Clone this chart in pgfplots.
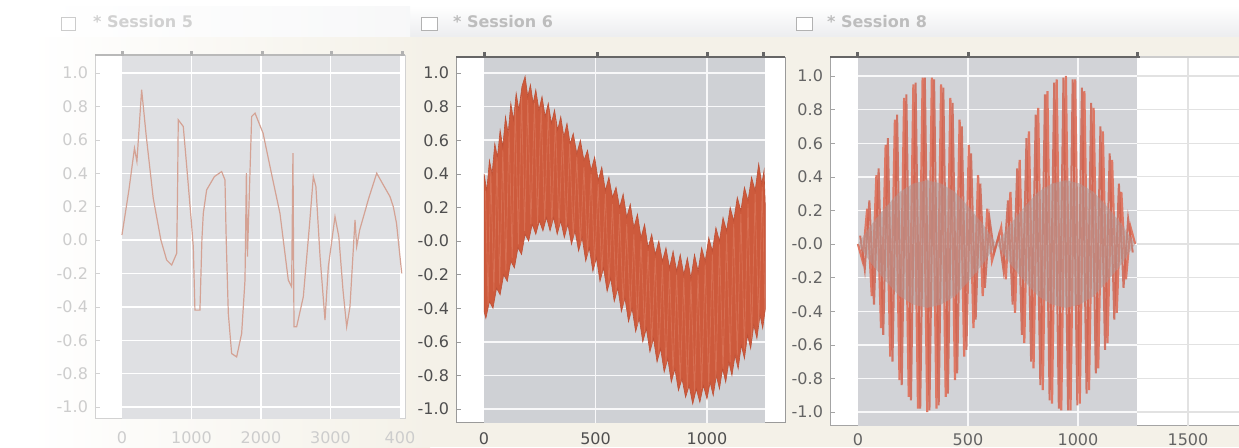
\documentclass[border=0pt]{standalone}
\usepackage{pgfplots}
\pgfplotsset{compat=1.18}
\usepackage{fontspec}
\setmainfont{DejaVu Sans}

\definecolor{cream}{HTML}{F4F1E8}
\definecolor{barbot}{HTML}{ECEDEF}
\definecolor{titlec}{HTML}{BDBDBD}
\definecolor{frameA}{HTML}{D2D2D2}
\definecolor{frameB}{HTML}{9A9A9A}
\definecolor{frameC}{HTML}{A4A4A4}
\definecolor{plotA}{HTML}{DFE0E3}
\definecolor{plotB}{HTML}{CFD1D5}
\definecolor{plotC}{HTML}{D2D3D7}
\definecolor{labA}{HTML}{CDCDCD}
\definecolor{labB}{HTML}{4F4F4F}
\definecolor{labC}{HTML}{646464}
\definecolor{lineA}{HTML}{D4A294}
\definecolor{bandB}{HTML}{CD5A3C}
\definecolor{bandBd}{HTML}{BE5036}
\definecolor{bandBl}{HTML}{E08468}
\definecolor{stripeC}{HTML}{DE7864}
\definecolor{stripeD}{HTML}{D0634F}
\definecolor{mauve}{HTML}{B39490}
\definecolor{gridC}{HTML}{E2E2E2}

\pgfplotsset{
  panel/.style={
    scale only axis, clip=true,
    ytick={-1,-0.8,-0.6,-0.4,-0.2,0,0.2,0.4,0.6,0.8,1},
    ytick pos=left, xtick pos=bottom, tick align=inside,
    major tick length=2.5pt,
    xtick style={draw=none},
    tick label style={font=\fontsize{8}{9}\selectfont},
    xticklabel style={yshift=-3.5pt},
  }
}

\begin{document}
\begin{tikzpicture}
\begin{scope}[x=0.5pt,y=-0.5pt]
\fill[white] (0,0) rectangle (1239,447);
\shade[top color=white, bottom color=barbot] (410,6) rectangle (1239,37);
\shade[left color=white, right color=barbot!40] (40,6) rectangle (410,37);
\shade[left color=white, right color=cream] (30,37) rectangle (430,447);
\fill[cream] (430,37) rectangle (1239,447);
\draw[gray!40, fill=white] (61,17) rectangle (75,30);
\draw[gray!60, fill=white] (421,17) rectangle (437,30);
\draw[gray!60, fill=white] (796,17) rectangle (812,30);
\node[anchor=west, text=titlec!70, font=\bfseries\fontsize{8}{9}\selectfont] at (86,22) {* Session 5};
\node[anchor=west, text=titlec, font=\bfseries\fontsize{8}{9}\selectfont] at (446,22) {* Session 6};
\node[anchor=west, text=titlec, font=\bfseries\fontsize{8}{9}\selectfont] at (820,22) {* Session 8};
\fill[white] (95,55) rectangle (405,418);
\fill[white] (456,57) rectangle (785,422);
\fill[white] (830,57) rectangle (1300,425);
\end{scope}

% ---------------- panel 1
\begin{axis}[panel, at={(47.5pt,-209pt)}, anchor=south west,
  width=155pt, height=181.5pt,
  xmin=-388, xmax=4072, ymin=-1.066, ymax=1.108,
  axis line style={draw=frameA},
  ytick style={draw=frameA},
  xtick={0,1000,2000,3000,4000}, xticklabels={0,1000,2000,3000,400},
  yticklabels={-1.0,-0.8,-0.6,-0.4,-0.2,0.0,0.2,0.4,0.6,0.8,1.0},
  tick label style={text=labA}]
\fill[plotA] (axis cs:0,-1.2) rectangle (axis cs:4000,1.2);
\pgfplotsinvokeforeach{-1,-0.8,-0.6,-0.4,-0.2,0,0.2,0.4,0.6,0.8,1}{
  \draw[white, line width=0.7pt] (axis cs:0,#1) -- (axis cs:4000,#1);}
\pgfplotsinvokeforeach{1000,2000,3000}{
  \draw[white, line width=0.7pt] (axis cs:#1,-1.2) -- (axis cs:#1,1.2);}
\addplot[lineA, line width=0.6pt] coordinates {
(0,0.03) (100,0.30) (180,0.55) (215,0.47) (283,0.90) (350,0.62) (450,0.25)
(560,0.0) (643,-0.12) (715,-0.15) (787,-0.08) (800,0.30) (810,0.72) (882,0.68)
(940,0.40) (1000,0.10) (1026,-0.04) (1050,-0.42) (1122,-0.42) (1150,0.0)
(1170,0.16) (1218,0.30) (1330,0.38) (1434,0.41) (1482,0.36) (1500,0.0)
(1530,-0.44) (1578,-0.68) (1650,-0.70) (1722,-0.56) (1770,-0.24) (1790,0.40)
(1805,-0.10) (1866,0.74) (1914,0.76) (2030,0.64) (2150,0.40) (2273,0.16)
(2393,-0.24) (2441,-0.28) (2460,0.52) (2475,-0.52) (2513,-0.52) (2609,-0.34)
(2700,0.10) (2753,0.38) (2790,0.32) (2850,-0.10) (2921,-0.48) (2969,-0.16)
(3065,0.14) (3120,0.02) (3180,-0.30) (3233,-0.52) (3280,-0.40) (3353,0.12)
(3377,-0.04) (3420,0.06) (3550,0.25) (3665,0.40) (3760,0.33) (3856,0.26)
(3904,0.20) (3950,0.10) (4025,-0.20)};
\end{axis}

% ---------------- panel 2
\begin{axis}[panel, at={(228pt,-211pt)}, anchor=south west,
  width=164.5pt, height=182.5pt,
  xmin=-126, xmax=1350, ymin=-1.077, ymax=1.095,
  axis line style={draw=frameB},
  ytick style={draw=frameB},
  xtick={0,500,1000}, xticklabels={0,500,1000},
  xticklabel style={yshift=1.5pt},
  yticklabels={-1.0,-0.8,-0.6,-0.4,-0.2,-0.0,0.2,0.4,0.6,0.8,1.0},
  tick label style={text=labB}]
\fill[plotB] (axis cs:0,-1.2) rectangle (axis cs:1262,1.2);
\pgfplotsinvokeforeach{-1,-0.8,-0.6,-0.4,-0.2,0,0.2,0.4,0.6,0.8,1}{
  \draw[white!85!plotB, line width=0.7pt] (axis cs:0,#1) -- (axis cs:1262,#1);}
\pgfplotsinvokeforeach{500,1000}{
  \draw[white!85!plotB, line width=0.7pt] (axis cs:#1,-1.2) -- (axis cs:#1,1.2);}
\addplot[fill=bandB, draw=bandBd, line width=0.3pt] coordinates {
(0,0.40) (12,0.30) (24,0.48) (36,0.40) (48,0.58) (60,0.50) (72,0.66) (84,0.56)
(96,0.74) (108,0.64) (120,0.82) (132,0.72) (144,0.88) (156,0.78) (170,0.92)
(184,0.98) (196,0.86) (208,0.93) (220,0.82) (232,0.90) (246,0.78) (260,0.86)
(274,0.74) (288,0.82) (302,0.70) (316,0.78) (330,0.66) (344,0.74) (358,0.62)
(372,0.70) (386,0.58) (400,0.64) (416,0.52) (432,0.60) (448,0.48) (464,0.54)
(480,0.42) (496,0.50) (512,0.36) (528,0.44) (544,0.30) (560,0.38) (576,0.26)
(592,0.32) (608,0.20) (624,0.28) (640,0.14) (656,0.22) (672,0.08) (688,0.16)
(704,0.02) (720,0.10) (736,-0.04) (752,0.04) (768,-0.08) (784,0.00) (800,-0.12)
(816,-0.04) (832,-0.16) (848,-0.06) (864,-0.18) (880,-0.08) (896,-0.20)
(912,-0.10) (928,-0.22) (944,-0.08) (960,-0.18) (976,-0.04) (992,-0.12)
(1008,0.02) (1024,-0.06) (1040,0.08) (1056,0.00) (1072,0.14) (1088,0.06)
(1104,0.20) (1120,0.12) (1136,0.26) (1152,0.18) (1168,0.32) (1184,0.24)
(1200,0.38) (1216,0.30) (1232,0.46) (1246,0.34) (1256,0.42) (1262,0.20)
(1262,-0.40) (1250,-0.52) (1238,-0.44) (1224,-0.58) (1210,-0.50) (1196,-0.64)
(1182,-0.56) (1168,-0.70) (1154,-0.62) (1140,-0.76) (1126,-0.68) (1112,-0.80)
(1098,-0.72) (1084,-0.84) (1070,-0.76) (1056,-0.88) (1042,-0.80) (1028,-0.92)
(1014,-0.84) (1000,-0.94) (984,-0.86) (968,-0.96) (952,-0.88) (936,-0.97)
(920,-0.86) (904,-0.93) (888,-0.82) (872,-0.89) (856,-0.76) (840,-0.84)
(824,-0.70) (808,-0.78) (792,-0.64) (776,-0.72) (760,-0.58) (744,-0.66)
(728,-0.52) (712,-0.60) (696,-0.46) (680,-0.54) (664,-0.40) (648,-0.48)
(632,-0.34) (616,-0.42) (600,-0.28) (584,-0.36) (568,-0.22) (552,-0.30)
(536,-0.16) (520,-0.24) (504,-0.10) (488,-0.18) (472,-0.04) (456,-0.12)
(440,0.02) (424,-0.06) (408,0.06) (392,-0.02) (376,0.10) (360,0.02) (344,0.12)
(328,0.04) (312,0.14) (296,0.06) (280,0.14) (264,0.06) (248,0.12) (232,0.04)
(216,0.10) (200,0.00) (184,0.04) (168,-0.08) (152,-0.04) (136,-0.16)
(120,-0.12) (104,-0.24) (88,-0.20) (72,-0.32) (56,-0.28) (40,-0.40) (24,-0.36)
(8,-0.46) (0,-0.42)} -- cycle;
\addplot[bandBl, line width=0.4pt, opacity=0.5] coordinates {
(6,0.30) (18,-0.38) (30,0.42) (44,-0.30) (58,0.50) (70,-0.26) (84,0.54)
(98,-0.18) (112,0.66) (126,-0.10) (140,0.80) (154,-0.02) (168,0.86) (182,0.06)
(196,0.84) (210,0.10) (226,0.82) (240,0.10) (256,0.80) (272,0.12) (288,0.78)
(304,0.10) (320,0.72) (336,0.08) (352,0.64) (368,0.06) (384,0.58) (400,0.02)
(416,0.50) (432,-0.02) (448,0.44) (464,-0.08) (480,0.40) (496,-0.14) (512,0.34)
(528,-0.20) (544,0.28) (560,-0.26) (576,0.22) (592,-0.32) (608,0.16) (624,-0.38)
(640,0.10) (656,-0.44) (672,0.04) (688,-0.50) (704,0.00) (720,-0.54) (736,-0.06)
(752,-0.62) (768,-0.10) (784,-0.68) (800,-0.14) (816,-0.74) (832,-0.18)
(848,-0.78) (864,-0.20) (880,-0.84) (896,-0.22) (912,-0.88) (928,-0.24)
(944,-0.90) (960,-0.20) (976,-0.88) (992,-0.14) (1008,-0.86) (1024,-0.08)
(1040,-0.82) (1056,-0.02) (1072,-0.76) (1088,0.04) (1104,-0.72) (1120,0.10)
(1136,-0.68) (1152,0.16) (1168,-0.64) (1184,0.22) (1200,-0.58) (1216,0.28)
(1232,-0.50) (1248,0.32) (1260,-0.42)};
\end{axis}

% ---------------- panel 3
\begin{axis}[panel, at={(415pt,-212.5pt)}, anchor=south west,
  width=235pt, height=184pt,
  xmin=-127, xmax=2009, ymin=-1.077, ymax=1.113,
  axis line style={draw=frameC},
  ytick style={draw=frameC},
  xtick={0,500,1000,1500}, xticklabels={0,500,1000,1500},
  xticklabel style={yshift=2.5pt},
  yticklabels={-1.0,-0.8,-0.6,-0.4,-0.2,-0.0,0.2,0.4,0.6,0.8,1.0},
  tick label style={text=labC}]
\pgfplotsinvokeforeach{-1,-0.8,-0.6,-0.4,-0.2,0,0.2,0.4,0.6,0.8,1}{
  \draw[gridC, line width=0.6pt] (axis cs:1268,#1) -- (axis cs:2100,#1);}
\draw[gridC, line width=0.6pt] (axis cs:1500,-1.2) -- (axis cs:1500,1.2);
\fill[plotC] (axis cs:0,-1.2) rectangle (axis cs:1268,1.2);
\pgfplotsinvokeforeach{-1,-0.8,-0.6,-0.4,-0.2,0,0.2,0.4,0.6,0.8,1}{
  \draw[white!85!plotC, line width=0.7pt] (axis cs:0,#1) -- (axis cs:1268,#1);}
\pgfplotsinvokeforeach{500,1000}{
  \draw[white!85!plotC, line width=0.7pt] (axis cs:#1,-1.2) -- (axis cs:#1,1.2);}
\addplot[stripeC, line width=1.1pt] coordinates {
(0,0) (21,-0.10) (42,0.21) (63,-0.31) (84,0.41) (105,-0.50) (126,0.59)
(147,-0.67) (168,0.74) (189,-0.81) (210,0.87) (231,-0.91) (252,0.95)
(273,-0.98) (294,0.99) (315,-1.00) (336,0.99) (357,-0.98) (378,0.95)
(399,-0.91) (420,0.87) (441,-0.81) (462,0.74) (483,-0.67) (504,0.59)
(525,-0.50) (546,0.41) (567,-0.31) (588,0.21) (609,-0.10) (630,0)
(651,0.10) (672,-0.21) (693,0.31) (714,-0.41) (735,0.50) (756,-0.59)
(777,0.67) (798,-0.74) (819,0.81) (840,-0.87) (861,0.91) (882,-0.95)
(903,0.98) (924,-0.99) (945,1.00) (966,-0.99) (987,0.98) (1008,-0.95)
(1029,0.91) (1050,-0.87) (1071,0.81) (1092,-0.74) (1113,0.67) (1134,-0.59)
(1155,0.50) (1176,-0.41) (1197,0.31) (1218,-0.21) (1239,0.10) (1260,0)};
\addplot[stripeD, line width=1.0pt, opacity=0.85] coordinates {
(10,0.05) (31,-0.15) (52,0.26) (73,-0.36) (94,0.45) (115,-0.54) (136,0.63)
(157,-0.70) (178,0.77) (199,-0.84) (220,0.89) (241,-0.93) (262,0.96)
(283,-0.98) (304,0.99) (325,-0.99) (346,0.98) (367,-0.96) (388,0.93)
(409,-0.89) (430,0.84) (451,-0.77) (472,0.70) (493,-0.63) (514,0.54)
(535,-0.45) (556,0.36) (577,-0.26) (598,0.15) (619,-0.05)
(640,0.05) (661,-0.15) (682,0.26) (703,-0.36) (724,0.45) (745,-0.54)
(766,0.63) (787,-0.70) (808,0.77) (829,-0.84) (850,0.89) (871,-0.93)
(892,0.96) (913,-0.98) (934,0.99) (955,-0.99) (976,0.98) (997,-0.96)
(1018,0.93) (1039,-0.89) (1060,0.84) (1081,-0.77) (1102,0.70) (1123,-0.63)
(1144,0.54) (1165,-0.45) (1186,0.36) (1207,-0.26) (1228,0.15) (1249,-0.05)};
\addplot[fill=mauve, fill opacity=0.55, draw=none] coordinates {
(0,0) (63,0.12) (126,0.22) (189,0.31) (252,0.36) (315,0.38) (378,0.36)
(441,0.31) (504,0.22) (567,0.12) (630,0) (567,-0.12) (504,-0.22) (441,-0.31)
(378,-0.36) (315,-0.38) (252,-0.36) (189,-0.31) (126,-0.22) (63,-0.12)} -- cycle;
\addplot[fill=mauve, fill opacity=0.55, draw=none] coordinates {
(630,0) (693,0.12) (756,0.22) (819,0.31) (882,0.36) (945,0.38) (1008,0.36)
(1071,0.31) (1134,0.22) (1197,0.12) (1260,0) (1197,-0.12) (1134,-0.22)
(1071,-0.31) (1008,-0.36) (945,-0.38) (882,-0.36) (819,-0.31) (756,-0.22)
(693,-0.12)} -- cycle;
\end{axis}

\begin{scope}[x=0.5pt,y=-0.5pt]
\draw[gray!55, line width=1pt] (95,55) -- (405,55);
\foreach \p in {122,191,262,331,402} \fill[gray!60] (\p-1.5,51) rectangle (\p+1.5,56);
\draw[gray!80!black, line width=1pt] (456,57) -- (785,57);
\foreach \p in {484,597,707,763} \fill[gray!80!black] (\p-1.5,52) rectangle (\p+1.5,58);
\draw[gray!80!black, line width=1pt] (830,57) -- (1140,57);
\draw[gray!40, line width=1pt] (1140,57) -- (1239,57);
\foreach \p in {857,968,1137} \fill[gray!80!black] (\p-1.5,52) rectangle (\p+1.5,58);
\pgfresetboundingbox
\useasboundingbox (0,0) rectangle (1239,447);
\end{scope}
\end{tikzpicture}
\end{document}
